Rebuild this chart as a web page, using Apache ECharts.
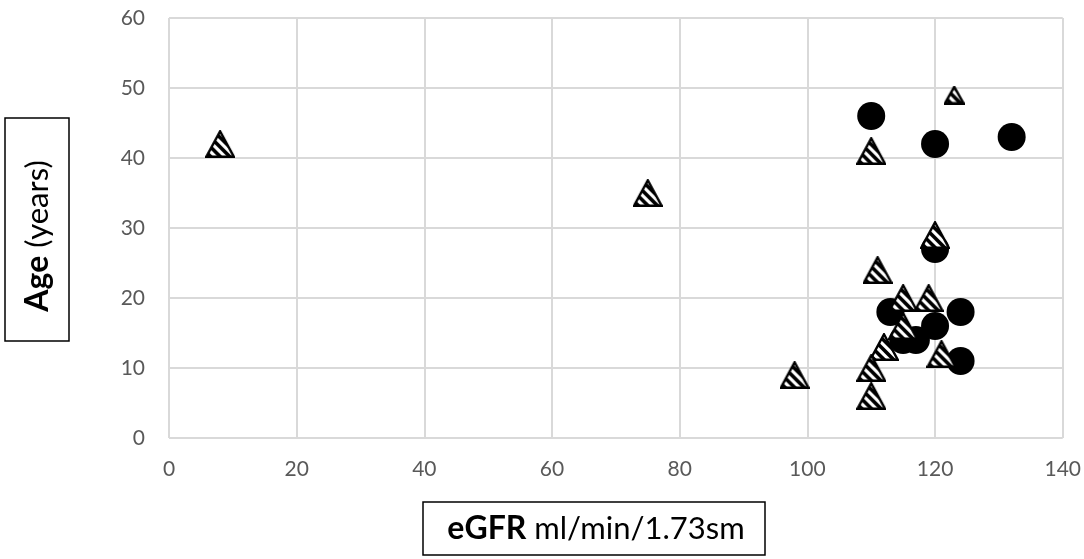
<!DOCTYPE html>
<html><head><meta charset="utf-8">
<script src="https://cdn.jsdelivr.net/npm/echarts@6/dist/echarts.min.js"></script>
<style>html,body{margin:0;padding:0;background:#fff}#c{width:1084px;height:559px}</style>
</head><body><div id="c"></div>
<script>
// Data (eGFR, Age)
const circleX = [110, 120, 132, 120, 113, 124, 120, 115, 117, 124];
const circleY = [46, 42, 43, 27, 18, 18, 16, 14, 14, 11];
const triX = [8, 75, 123, 110, 120, 111, 115, 119, 115, 112, 121, 110, 110, 98];
const triY = [42, 35, 49, 41, 29, 24, 20, 20, 16, 13, 12, 10, 6, 9];
const xTicks = [0, 20, 40, 60, 80, 100, 120, 140];
const yTicks = [0, 10, 20, 30, 40, 50, 60];

function hatchTri(w, h) {
  const c = document.createElement('canvas');
  c.width = w; c.height = h;
  const g = c.getContext('2d');
  const path = () => { g.beginPath(); g.moveTo(w / 2, 1.3); g.lineTo(w - 1.3, h - 1.3); g.lineTo(1.3, h - 1.3); g.closePath(); };
  path(); g.fillStyle = '#fff'; g.fill();
  g.save(); path(); g.clip();
  g.strokeStyle = '#000'; g.lineWidth = 3.6;
  for (let cc = -w - h + 3; cc < w + h; cc += 9.5) {
    g.beginPath(); g.moveTo(0, cc); g.lineTo(w + h, cc + w + h); g.stroke();
  }
  g.restore();
  path(); g.lineJoin = 'miter'; g.strokeStyle = '#000'; g.lineWidth = 2.4; g.stroke();
  return 'image://' + c.toDataURL();
}
const triBig = hatchTri(30, 28);
const triSmall = hatchTri(21, 19);

const chart = echarts.init(document.getElementById('c'));
const fontFam = 'Lato, "Open Sans", sans-serif';
chart.setOption({
  animation: false,
  grid: { left: 169, right: 21, top: 18, bottom: 121, containLabel: false },
  xAxis: {
    type: 'value', min: xTicks[0], max: xTicks[xTicks.length - 1], interval: 20,
    axisLine: { show: false }, axisTick: { show: false },
    splitLine: { show: true, lineStyle: { color: '#d9d9d9', width: 2 } },
    axisLabel: { color: '#595959', fontSize: 21, fontFamily: fontFam, margin: 21 }
  },
  yAxis: {
    type: 'value', min: yTicks[0], max: yTicks[yTicks.length - 1], interval: 10,
    axisLine: { show: false }, axisTick: { show: false },
    splitLine: { show: true, lineStyle: { color: '#d9d9d9', width: 2 } },
    axisLabel: { color: '#595959', fontSize: 21, fontFamily: fontFam, margin: 24 }
  },
  series: [
    {
      type: 'scatter', symbol: 'circle', symbolSize: 28,
      itemStyle: { color: '#000', opacity: 1 },
      data: circleX.map((x, i) => [x, circleY[i]]), z: 2
    },
    {
      type: 'scatter',
      symbol: (v, p) => (p.dataIndex === 2 ? triSmall : triBig),
      symbolSize: (v, p) => (p.dataIndex === 2 ? [21, 19] : [30, 28]),
      itemStyle: { opacity: 1 },
      data: triX.map((x, i) => [x, triY[i]]), z: 3
    }
  ],
  graphic: [
    { type: 'rect', shape: { x: 423, y: 502, width: 342, height: 53 },
      style: { fill: 'none', stroke: '#000', lineWidth: 1.5 } },
    { type: 'text', x: 596, y: 529,
      style: { text: '{b|eGFR}{r| ml/min/1.73sm}', align: 'center', verticalAlign: 'middle',
        rich: { b: { fontSize: 32, fontWeight: 'bold', fontFamily: fontFam, fill: '#000' },
                r: { fontSize: 31, fontFamily: fontFam, fill: '#000' } } } },
    { type: 'rect', shape: { x: 5, y: 118, width: 64, height: 223 },
      style: { fill: 'none', stroke: '#000', lineWidth: 1.5 } },
    { type: 'text', x: 38, y: 236, rotation: Math.PI / 2,
      style: { text: '{b|Age}{r| (years)}', align: 'center', verticalAlign: 'middle',
        rich: { b: { fontSize: 32, fontWeight: 'bold', fontFamily: fontFam, fill: '#000' },
                r: { fontSize: 31, fontFamily: fontFam, fill: '#000' } } } }
  ]
});
</script></body></html>
